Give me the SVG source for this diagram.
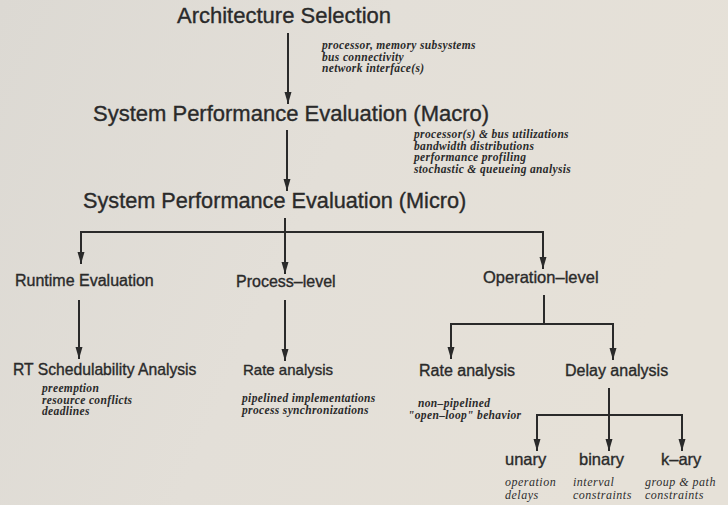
<svg xmlns="http://www.w3.org/2000/svg" width="728" height="505" viewBox="0 0 728 505">
<defs>
<linearGradient id="bg" x1="0" y1="0" x2="1" y2="0.3">
<stop offset="0" stop-color="#dcd9d3"/>
<stop offset="0.5" stop-color="#e3dfd8"/>
<stop offset="1" stop-color="#e6e1d8"/>
</linearGradient>
<marker id="ah" markerUnits="userSpaceOnUse" markerWidth="13" markerHeight="8" refX="12" refY="3.5" orient="auto" viewBox="0 0 13 8">
<path d="M0,0 L12,3.5 L0,7 z" fill="#2a2a2a"/>
</marker>
</defs>
<style>
.t{font-family:"Liberation Sans",Arial,Helvetica,sans-serif;fill:#2a2a2a;stroke:#2a2a2a;stroke-width:0.35px}
.h1{font-size:22px}
.h2{font-size:16px}
.n{font-family:"Liberation Serif","Times New Roman",serif;font-style:italic;font-weight:bold;font-size:11.5px;letter-spacing:0.35px;fill:#2a2a2a}
.m{font-family:"Liberation Serif","Times New Roman",serif;font-style:italic;font-size:12px;letter-spacing:0.5px;fill:#2e2e2e}
.c line,.c path{stroke:#2a2a2a;stroke-width:2;fill:none}
</style>
<rect width="728" height="505" fill="url(#bg)"/>

<g class="c" id="connectors">
<line x1="288" y1="33" x2="288" y2="104" marker-end="url(#ah)"/>
<line x1="287" y1="130" x2="287" y2="191" marker-end="url(#ah)"/>
<line x1="285" y1="218" x2="285" y2="274" marker-end="url(#ah)"/>
<path d="M81,264 V232 H543 V268"/>
<line x1="81" y1="240" x2="81" y2="264" marker-end="url(#ah)"/>
<line x1="543" y1="240" x2="543" y2="269" marker-end="url(#ah)"/>
<line x1="79" y1="300" x2="79" y2="359" marker-end="url(#ah)"/>
<line x1="285" y1="300" x2="285" y2="361" marker-end="url(#ah)"/>
<line x1="544" y1="295" x2="544" y2="324"/>
<path d="M451,352 V324 H613 V352"/>
<line x1="451" y1="330" x2="451" y2="359" marker-end="url(#ah)"/>
<line x1="613" y1="330" x2="613" y2="360" marker-end="url(#ah)"/>
<line x1="609" y1="388" x2="609" y2="451" marker-end="url(#ah)"/>
<path d="M537,444 V415 H682 V444"/>
<line x1="537" y1="420" x2="537" y2="451" marker-end="url(#ah)"/>
<line x1="682" y1="420" x2="682" y2="451" marker-end="url(#ah)"/>
</g>

<g id="arch">
<text class="t h1" x="177" y="23">Architecture Selection</text>
<text class="n" x="322" y="49">processor, memory subsystems</text>
<text class="n" x="322" y="60.5">bus connectivity</text>
<text class="n" x="322" y="72">network interface(s)</text>
</g>
<g id="macro">
<text class="t h1" x="93" y="121">System Performance Evaluation (Macro)</text>
<text class="n" x="414" y="138">processor(s) &amp; bus utilizations</text>
<text class="n" x="414" y="149.5">bandwidth distributions</text>
<text class="n" x="414" y="161">performance profiling</text>
<text class="n" x="414" y="172.5">stochastic &amp; queueing analysis</text>
</g>
<g id="micro">
<text class="t h1" x="83" y="208" style="font-size:21.7px">System Performance Evaluation (Micro)</text>
</g>
<g id="runtime">
<text class="t h2" x="15" y="286">Runtime Evaluation</text>
</g>
<g id="process">
<text class="t h2" x="236" y="287">Process–level</text>
</g>
<g id="operation">
<text class="t h2" x="483" y="283" style="font-size:16.5px">Operation–level</text>
</g>
<g id="rt">
<text class="t h2" x="13" y="375" style="font-size:15.7px">RT Schedulability Analysis</text>
<text class="n" x="42" y="392">preemption</text>
<text class="n" x="42" y="403.5">resource conflicts</text>
<text class="n" x="42" y="415">deadlines</text>
</g>
<g id="rate1">
<text class="t h2" x="243" y="375" style="font-size:15px">Rate analysis</text>
<text class="n" x="242" y="402">pipelined implementations</text>
<text class="n" x="242" y="413.5">process synchronizations</text>
</g>
<g id="rate2">
<text class="t h2" x="419" y="376">Rate analysis</text>
<text class="n" x="418" y="407">non–pipelined</text>
<text class="n" x="408" y="418.5">"open–loop" behavior</text>
</g>
<g id="delay">
<text class="t h2" x="565" y="376">Delay analysis</text>
</g>
<g id="unary">
<text class="t h2" x="505" y="465" style="font-size:16.5px">unary</text>
<text class="m" x="505" y="486">operation</text>
<text class="m" x="505" y="499">delays</text>
</g>
<g id="binary">
<text class="t h2" x="579" y="465" style="font-size:16.5px">binary</text>
<text class="m" x="573" y="486">interval</text>
<text class="m" x="573" y="499">constraints</text>
</g>
<g id="kary">
<text class="t h2" x="661" y="465" style="font-size:16.5px">k–ary</text>
<text class="m" x="645" y="486">group &amp; path</text>
<text class="m" x="645" y="499">constraints</text>
</g>
</svg>
